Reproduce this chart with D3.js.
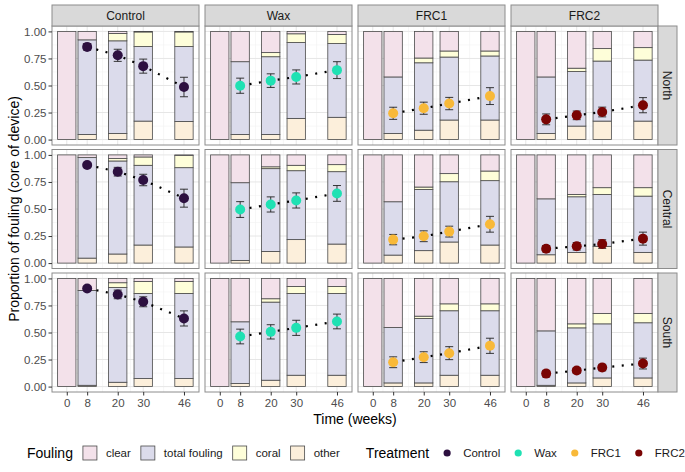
<!DOCTYPE html>
<html>
<head>
<meta charset="utf-8">
<title>Proportion of fouling</title>
<script src="https://d3js.org/d3.v7.min.js"></script>
<style>
  body { margin: 0; background: #fff; }
  text { font-family: "Liberation Sans", Arial, sans-serif; }
</style>
</head>
<body>
<div id="chart"></div>
<script>
// ---- data ----
var treatments = ["Control", "Wax", "FRC1", "FRC2"];
var sites = ["North", "Central", "South"];
var weeks = [0, 8, 20, 30, 46];
var sampleWeeks = [8, 20, 30, 46];
var weekTicks = ["0", "8", "20", "30", "46"];
var foulingKeys = ["other", "total fouling", "coral", "clear"]; // stacked bottom -> top
var foulingLegend = ["clear", "total fouling", "coral", "other"];

// proportions: [site][treatment][week]
var otherP = [
  [[0, .047, .056, .171, .168], [0, .047, .047, .196, .206], [0, .056, .087, .181, .181], [0, .056, .125, .171, .171]],
  [[0, .046, .084, .167, .149], [0, .025, .108, .217, .176], [0, .074, .115, .195, .167], [0, .077, .099, .155, .099]],
  [[0, .012, .040, .074, .074], [0, .028, .059, .105, .105], [0, .034, .034, .105, .105], [0, .012, .034, .080, .080]]
];
var totalFoulingP = [
  [[0, .875, .857, .689, .692], [0, .673, .719, .701, .682], [0, .523, .623, .582, .592], [0, .523, .504, .555, .564]],
  [[0, .929, .860, .737, .733], [0, .718, .765, .637, .669], [0, .493, .566, .557, .595], [0, .517, .514, .480, .520]],
  [[0, .877, .877, .787, .787], [0, .571, .722, .756, .756], [0, .512, .596, .596, .596], [0, .503, .509, .500, .510]]
];
var coralP = [
  [[0, 0, .068, .135, .135], [0, 0, .038, .081, .084], [0, 0, .044, .056, .046], [0, 0, .031, .115, .115]],
  [[0, 0, .022, .077, .112], [0, 0, .017, .050, .065], [0, 0, .022, .075, .089], [0, 0, .022, .062, .078]],
  [[0, 0, .043, .111, .111], [0, 0, .031, .065, .065], [0, 0, .021, .064, .064], [0, 0, .037, .096, .086]]
];
var clearP = [
  [[1, .078, .019, .005, .005], [1, .280, .196, .022, .028], [1, .421, .246, .181, .181], [1, .421, .340, .159, .150]],
  [[1, .025, .034, .019, .006], [1, .257, .110, .096, .090], [1, .433, .297, .173, .149], [1, .406, .365, .303, .303]],
  [[1, .111, .040, .028, .028], [1, .401, .188, .074, .074], [1, .454, .349, .235, .235], [1, .485, .420, .324, .324]]
];

// mean proportion fouled and error, [site][treatment][sample week]
var meanFouling = [
  [[.857, .779, .679, .486], [.498, .545, .579, .642], [.243, .290, .333, .402], [.187, .224, .255, .318]],
  [[.907, .845, .768, .600], [.495, .542, .579, .644], [.217, .248, .291, .359], [.133, .155, .176, .226]],
  [[.907, .852, .784, .630], [.463, .506, .543, .602], [.225, .272, .309, .377], [.120, .148, .176, .213]]
];
var errFouling = [
  [[.030, .056, .065, .090], [.070, .063, .065, .078], [.056, .056, .057, .078], [.050, .040, .045, .070]],
  [[.020, .040, .053, .083], [.073, .070, .070, .073], [.048, .050, .050, .073], [.030, .035, .040, .060]],
  [[.020, .040, .046, .070], [.068, .066, .070, .068], [.050, .050, .060, .070], [.030, .025, .030, .050]]
];

var foulingColors = { "clear": "#F3E1EA", "total fouling": "#DBDBEB", "coral": "#FEFED9", "other": "#FCEFDB" };
var treatmentColors = { "Control": "#2D1040", "Wax": "#1FE1B3", "FRC1": "#F8B939", "FRC2": "#7A0403" };

// ---- layout ----
var W = 685, H = 472;
var plotLeft = 52, plotTop = 26, panelW = 147, panelH = 119, gapX = 6, gapY = 4.5;
var stripH = 21, stripW = 19;

var svg = d3.select("#chart").append("svg")
    .attr("width", W).attr("height", H);
svg.append("rect").attr("width", W).attr("height", H).attr("fill", "#fff");

var x = d3.scaleLinear().domain([-5.8, 51.9]).range([0, panelW]);
var y = d3.scaleLinear().domain([-0.05, 1.05]).range([panelH, 0]);
var barW = x(7.2) - x(0);

var stack = d3.stack().keys(foulingKeys);

var dotted = d3.line()
    .x(function(d) { return x(d.week); })
    .y(function(d) { return y(d.mean); });

sites.forEach(function(site, r) {
  treatments.forEach(function(tr, c) {
    var g = svg.append("g")
        .attr("transform", "translate(" + (plotLeft + c * (panelW + gapX)) + "," + (plotTop + r * (panelH + gapY)) + ")");

    // grid
    var minorY = [0.125, 0.375, 0.625, 0.875], majorY = [0, 0.25, 0.5, 0.75, 1];
    var minorX = [4, 14, 25, 38];
    g.selectAll(".gmy").data(minorY).enter().append("line")
        .attr("x1", 0).attr("x2", panelW).attr("y1", y).attr("y2", y)
        .attr("stroke", "#F2F2F2").attr("stroke-width", 0.6);
    g.selectAll(".gmx").data(minorX).enter().append("line")
        .attr("y1", 0).attr("y2", panelH).attr("x1", x).attr("x2", x)
        .attr("stroke", "#F2F2F2").attr("stroke-width", 0.6);
    g.selectAll(".gy").data(majorY).enter().append("line")
        .attr("x1", 0).attr("x2", panelW).attr("y1", y).attr("y2", y)
        .attr("stroke", "#E6E6E6").attr("stroke-width", 1);
    g.selectAll(".gx").data(weeks).enter().append("line")
        .attr("y1", 0).attr("y2", panelH).attr("x1", x).attr("x2", x)
        .attr("stroke", "#E6E6E6").attr("stroke-width", 1);

    // stacked bars
    var rows = weeks.map(function(w, i) {
      return { week: w, "other": otherP[r][c][i], "total fouling": totalFoulingP[r][c][i],
               "coral": coralP[r][c][i], "clear": clearP[r][c][i] };
    });
    var layers = stack(rows);
    layers.forEach(function(layer) {
      g.selectAll(null).data(layer).enter().append("rect")
          .attr("x", function(d) { return x(d.data.week) - barW / 2; })
          .attr("width", barW)
          .attr("y", function(d) { return y(d[1]); })
          .attr("height", function(d) { return y(d[0]) - y(d[1]); })
          .attr("fill", foulingColors[layer.key])
          .attr("stroke", "#4a4a4a").attr("stroke-width", 0.8);
    });

    // points
    var pts = sampleWeeks.map(function(w, i) {
      return { week: w, mean: meanFouling[r][c][i], err: errFouling[r][c][i] };
    });
    g.append("path").datum(pts)
        .attr("d", dotted).attr("fill", "none")
        .attr("stroke", "#000").attr("stroke-width", 2.2)
        .attr("stroke-dasharray", "2,7.5");
    var eb = g.selectAll(".eb").data(pts).enter().append("g")
        .attr("stroke", "#222").attr("stroke-width", 0.9);
    eb.append("line")
        .attr("x1", function(d) { return x(d.week); }).attr("x2", function(d) { return x(d.week); })
        .attr("y1", function(d) { return y(d.mean - d.err); }).attr("y2", function(d) { return y(d.mean + d.err); });
    eb.append("line")
        .attr("x1", function(d) { return x(d.week) - 4; }).attr("x2", function(d) { return x(d.week) + 4; })
        .attr("y1", function(d) { return y(d.mean + d.err); }).attr("y2", function(d) { return y(d.mean + d.err); });
    eb.append("line")
        .attr("x1", function(d) { return x(d.week) - 4; }).attr("x2", function(d) { return x(d.week) + 4; })
        .attr("y1", function(d) { return y(d.mean - d.err); }).attr("y2", function(d) { return y(d.mean - d.err); });
    g.selectAll(".pt").data(pts).enter().append("circle")
        .attr("cx", function(d) { return x(d.week); })
        .attr("cy", function(d) { return y(d.mean); })
        .attr("r", 5).attr("fill", treatmentColors[tr]);

    // panel border
    g.append("rect").attr("width", panelW).attr("height", panelH)
        .attr("fill", "none").attr("stroke", "#8c8c8c").attr("stroke-width", 1);

    // top strip
    if (r === 0) {
      g.append("rect").attr("y", -stripH).attr("width", panelW).attr("height", stripH)
          .attr("fill", "#D9D9D9").attr("stroke", "#8c8c8c").attr("stroke-width", 1);
      g.append("text").attr("x", panelW / 2).attr("y", -stripH / 2)
          .attr("dy", "0.35em").attr("text-anchor", "middle")
          .attr("font-size", 12).attr("fill", "#1a1a1a").text(tr);
    }
    // right strip
    if (c === treatments.length - 1) {
      g.append("rect").attr("x", panelW).attr("width", stripW).attr("height", panelH)
          .attr("fill", "#D9D9D9").attr("stroke", "#8c8c8c").attr("stroke-width", 1);
      g.append("text")
          .attr("transform", "translate(" + (panelW + stripW / 2) + "," + (panelH / 2) + ") rotate(90)")
          .attr("dy", "0.35em").attr("text-anchor", "middle")
          .attr("font-size", 12).attr("fill", "#1a1a1a").text(site);
    }
    // y axis
    if (c === 0) {
      var ya = g.append("g").call(d3.axisLeft(y).tickValues([0, 0.25, 0.5, 0.75, 1])
          .tickFormat(d3.format(".2f")).tickSize(3.5).tickPadding(2));
      ya.select(".domain").remove();
      ya.selectAll("line").attr("stroke", "#333");
      ya.selectAll("text").attr("font-size", 11.5).attr("fill", "#4D4D4D")
          .style("font-family", "Liberation Sans, Arial, sans-serif");
    }
    // x axis
    if (r === sites.length - 1) {
      var xa = g.append("g").attr("transform", "translate(0," + panelH + ")")
          .call(d3.axisBottom(x).tickValues(weeks).tickFormat(function(d, i) { return weekTicks[i]; })
          .tickSize(3.5).tickPadding(3));
      xa.select(".domain").remove();
      xa.selectAll("line").attr("stroke", "#333");
      xa.selectAll("text").attr("font-size", 11.5).attr("fill", "#4D4D4D")
          .style("font-family", "Liberation Sans, Arial, sans-serif");
    }
  });
});

// axis titles
var plotMidX = plotLeft + (4 * panelW + 3 * gapX) / 2;
svg.append("text").attr("x", plotMidX).attr("y", 424)
    .attr("text-anchor", "middle").attr("font-size", 14).attr("fill", "#000")
    .text("Time (weeks)");
svg.append("text")
    .attr("transform", "translate(14," + (plotTop + (3 * panelH + 2 * gapY) / 2) + ") rotate(-90)")
    .attr("dy", "0.35em").attr("text-anchor", "middle").attr("font-size", 14).attr("fill", "#000")
    .text("Proportion of fouling (core of device)");

// legends, laid out left to right
var legY = 453;
var lg = svg.append("g");
var cx = 27;
var t1 = lg.append("text").attr("x", cx).attr("y", legY).attr("dy", "0.35em")
    .attr("font-size", 14).text("Fouling");
cx += t1.node().getComputedTextLength() + 10;
foulingLegend.forEach(function(k) {
  lg.append("rect").attr("x", cx).attr("y", legY - 7).attr("width", 14).attr("height", 14)
      .attr("fill", foulingColors[k]).attr("stroke", "#4a4a4a").attr("stroke-width", 0.8);
  var t = lg.append("text").attr("x", cx + 23).attr("y", legY).attr("dy", "0.35em")
      .attr("font-size", 11.5).attr("fill", "#1a1a1a").text(k);
  cx += 23 + t.node().getComputedTextLength() + 10;
});
cx += 16;
var t2 = lg.append("text").attr("x", cx).attr("y", legY).attr("dy", "0.35em")
    .attr("font-size", 14).text("Treatment");
cx += t2.node().getComputedTextLength() + 18;
treatments.forEach(function(t) {
  lg.append("circle").attr("cx", cx).attr("cy", legY).attr("r", 3.6)
      .attr("fill", treatmentColors[t]);
  var tt = lg.append("text").attr("x", cx + 16).attr("y", legY).attr("dy", "0.35em")
      .attr("font-size", 11.5).attr("fill", "#1a1a1a").text(t);
  cx += 16 + tt.node().getComputedTextLength() + 18;
});
</script>
</body>
</html>
